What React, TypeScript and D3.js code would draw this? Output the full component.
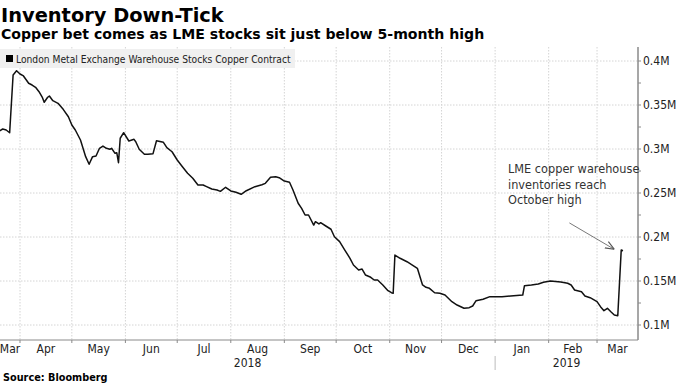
import React from "react";
import * as d3 from "d3";

const dates: string[] = [
  "2018-03-20","2018-03-22","2018-03-24","2018-03-26","2018-03-28","2018-03-30","2018-04-01","2018-04-03",
  "2018-04-06","2018-04-08","2018-04-10","2018-04-12","2018-04-14","2018-04-15","2018-04-17","2018-04-18",
  "2018-04-20","2018-04-23","2018-04-26","2018-04-29","2018-05-01","2018-05-03","2018-05-06","2018-05-09",
  "2018-05-11","2018-05-13","2018-05-15","2018-05-17","2018-05-19","2018-05-21","2018-05-23","2018-05-24",
  "2018-05-26","2018-05-27","2018-05-28","2018-05-29","2018-05-31","2018-06-03","2018-06-06","2018-06-07",
  "2018-06-09","2018-06-12","2018-06-14","2018-06-17","2018-06-19","2018-06-23","2018-06-25","2018-06-28",
  "2018-07-01","2018-07-04","2018-07-07","2018-07-10","2018-07-13","2018-07-16","2018-07-18","2018-07-21",
  "2018-07-24","2018-07-26","2018-07-29","2018-08-01","2018-08-04","2018-08-07","2018-08-10","2018-08-15",
  "2018-08-19","2018-08-21","2018-08-24","2018-08-27","2018-08-29","2018-09-01","2018-09-04","2018-09-06",
  "2018-09-09","2018-09-11","2018-09-13","2018-09-15","2018-09-18","2018-09-19","2018-09-21","2018-09-22",
  "2018-09-25","2018-09-28","2018-09-30","2018-10-03","2018-10-06","2018-10-09","2018-10-11","2018-10-14",
  "2018-10-16","2018-10-18","2018-10-21","2018-10-23","2018-10-25","2018-10-28","2018-10-31","2018-11-02",
  "2018-11-03","2018-11-04","2018-11-07","2018-11-11","2018-11-15","2018-11-17","2018-11-20","2018-11-22",
  "2018-11-24","2018-11-27","2018-11-30","2018-12-03","2018-12-07","2018-12-10","2018-12-14","2018-12-17",
  "2018-12-19","2018-12-21","2018-12-25","2018-12-29","2019-01-05","2019-01-10","2019-01-17","2019-01-18",
  "2019-01-22","2019-01-26","2019-01-29","2019-02-02","2019-02-08","2019-02-12","2019-02-14","2019-02-16",
  "2019-02-20","2019-02-22","2019-02-25","2019-03-01","2019-03-03","2019-03-05","2019-03-07","2019-03-09",
  "2019-03-11","2019-03-13","2019-03-15","2019-03-16"
];

const stocks: number[] = [
  320500,322700,321600,318500,384100,389000,385200,383000,
  374700,372700,370100,365100,358300,353100,358800,360200,
  354900,351900,345100,336700,327300,321600,310200,291300,
  282600,291300,292000,300800,303400,300800,299700,300800,
  295100,295800,284400,312200,318500,309100,311000,308300,
  299700,294000,294000,294700,309400,307600,301500,296900,
  287500,279900,272400,266700,259000,259100,257200,254500,
  253400,251900,256500,252300,250800,248500,252600,257200,
  259400,261000,267800,268500,267400,263600,262200,253400,
  238300,232600,225000,225000,213600,217400,214800,216300,
  212500,208800,200300,194700,185200,175800,168200,162500,
  163600,156800,154200,151100,151100,145500,139000,136700,
  136000,179500,175800,171900,167000,164400,145500,142800,
  141700,136700,136000,134100,126500,122700,119000,119700,
  121600,127600,129200,132200,132200,133000,134100,144700,
  145500,146600,148500,150000,148900,147400,145500,139800,
  137800,133000,131000,126500,120800,116300,119000,115100,
  111400,110600,185200,184400
];

const yTicks: number[] = [100000, 150000, 200000, 250000, 300000, 350000, 400000];
const yTickLabels: string[] = ["0.1M", "0.15M", "0.2M", "0.25M", "0.3M", "0.35M", "0.4M"];
const monthLabels: string[] = ["Mar","Apr","May","Jun","Jul","Aug","Sep","Oct","Nov","Dec","Jan","Feb","Mar"];
const yearLabels: string[] = ["2018", "2019"];

const title = "Inventory Down-Tick";
const subtitle = "Copper bet comes as LME stocks sit just below 5-month high";
const legendText = "London Metal Exchange Warehouse Stocks Copper Contract";
const annotationLines: string[] = ["LME copper warehouse", "inventories reach", "October high"];
const source = "Source: Bloomberg";

const W = 680, H = 383;
const plotLeft = 0, plotRight = 638, plotTop = 47, plotBottom = 340;
const COND = "'DejaVu Sans Condensed', 'DejaVu Sans', sans-serif";
const BOLD = "'DejaVu Sans', sans-serif";

export default function App() {
  const parse = d3.timeParse("%Y-%m-%d");
  const data = dates.map((d, i) => ({ date: parse(d) as Date, v: stocks[i] }));

  const x = d3
    .scaleTime()
    .domain([new Date(2018, 2, 20, 10), new Date(2019, 2, 24, 17)])
    .range([plotLeft, plotRight]);
  const y = d3.scaleLinear().domain([100000, 400000]).range([325, 61]);

  const line = d3
    .line<{ date: Date; v: number }>()
    .x((d) => x(d.date))
    .y((d) => y(d.v));

  const monthStarts = d3.timeMonth.range(new Date(2018, 3, 1), new Date(2019, 2, 2));
  const bounds = [plotLeft, ...monthStarts.map((m) => x(m)), plotRight];
  const minorTicks = d3.range(100000, 400001, 25000);
  const janX = x(new Date(2019, 0, 1));

  const annX = 508;
  const annY = 173;
  const arrowFrom: [number, number] = [x(new Date(2019, 1, 13)), y(216000)];
  const arrowTo: [number, number] = [x(new Date(2019, 2, 11)), y(186000)];

  return (
    <svg
      width={W}
      height={H}
      style={{ position: "absolute", left: 0, top: 0, background: "#fff" }}
    >
      <defs>
        <marker id="arr" viewBox="0 0 10 10" refX="10" refY="5" markerWidth="9" markerHeight="9" orient="auto" markerUnits="userSpaceOnUse">
          <path d="M0,1 L10,5 L0,9" fill="none" stroke="#555" strokeWidth="1.2" />
        </marker>
      </defs>
      {/* grid */}
      {yTicks.map((t) => (
        <line key={"gy" + t} x1={plotLeft} x2={plotRight} y1={y(t)} y2={y(t)} stroke="#d4d4d4" strokeWidth={1} strokeDasharray="1.5,1.5" />
      ))}
      {monthStarts.map((m, i) => (
        <line key={"gx" + i} x1={x(m)} x2={x(m)} y1={plotTop} y2={plotBottom} stroke="#d4d4d4" strokeWidth={1} strokeDasharray="1.5,1.5" />
      ))}

      {/* legend */}
      <rect x={0} y={49} width={295} height={19} fill="#f0f0f0" />
      <rect x={6} y={55} width={7} height={7} fill="#000" />
      <text x={16} y={62.5} fontFamily={COND} fontSize={10.2} fill="#222">{legendText}</text>

      {/* data line */}
      <path d={line(data) || ""} fill="none" stroke="#111" strokeWidth={1.5} strokeLinejoin="round" />

      {/* right axis */}
      <line x1={plotRight} x2={plotRight} y1={plotTop} y2={plotBottom} stroke="#8a8a8a" strokeWidth={1.5} />
      {minorTicks.map((t) => (
        <line key={"mt" + t} x1={plotRight} x2={plotRight + 3} y1={y(t)} y2={y(t)} stroke="#8a8a8a" strokeWidth={1} />
      ))}
      {yTicks.map((t, i) => (
        <text key={"yl" + t} x={plotRight + 5} y={y(t)} dy="0.36em" fontFamily={COND} fontSize={12} fill="#222">
          {yTickLabels[i]}
        </text>
      ))}

      {/* bottom axis */}
      <line x1={plotLeft} x2={plotRight} y1={plotBottom} y2={plotBottom} stroke="#8a8a8a" strokeWidth={1} />
      {monthStarts.map((m, i) => (
        <line key={"xt" + i} x1={x(m)} x2={x(m)} y1={plotBottom} y2={plotBottom + 3} stroke="#8a8a8a" strokeWidth={1} />
      ))}
      {monthLabels.map((lbl, i) => (
        <text key={"ml" + i} x={(bounds[i] + bounds[i + 1]) / 2} y={352.5} textAnchor="middle" fontFamily={COND} fontSize={12} fill="#222">
          {lbl}
        </text>
      ))}
      <text x={(plotLeft + janX) / 2} y={366.5} textAnchor="middle" fontFamily={COND} fontSize={12} fill="#222">{yearLabels[0]}</text>
      <text x={(janX + plotRight) / 2} y={366.5} textAnchor="middle" fontFamily={COND} fontSize={12} fill="#222">{yearLabels[1]}</text>
      <line x1={janX} x2={janX} y1={356} y2={370} stroke="#bbb" strokeWidth={1} />

      {/* annotation */}
      {annotationLines.map((l, i) => (
        <text key={"an" + i} x={annX} y={annY + i * 15.5} fontFamily={COND} fontSize={12.6} fill="#333">{l}</text>
      ))}
      <line x1={arrowFrom[0]} y1={arrowFrom[1]} x2={arrowTo[0]} y2={arrowTo[1]} stroke="#555" strokeWidth={0.8} markerEnd="url(#arr)" />

      {/* titles */}
      <text x={1} y={21.5} fontFamily={BOLD} fontWeight="bold" fontSize={19.4} fill="#000">{title}</text>
      <text x={1} y={38.5} fontFamily={BOLD} fontWeight="bold" fontSize={14.1} fill="#000">{subtitle}</text>
      <text x={3} y={381} fontFamily={COND} fontWeight="bold" fontSize={10.8} fill="#000">{source}</text>
    </svg>
  );
}
